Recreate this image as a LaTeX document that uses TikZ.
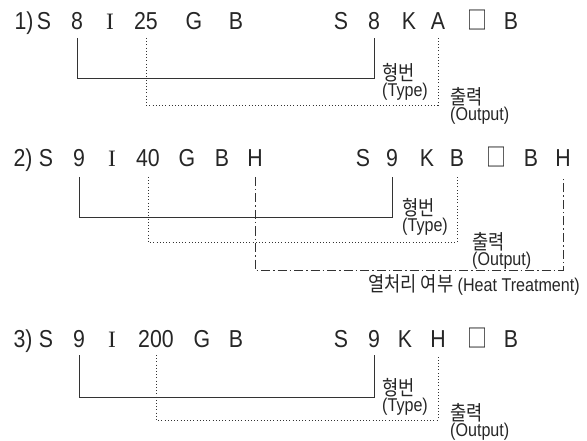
\documentclass[tikz,border=0pt]{standalone}
\usepackage{fontspec}
\setmainfont[FakeStretch=0.87]{Liberation Sans}
\newfontfamily\krf[FakeStretch=0.86]{Noto Sans CJK KR}
\newfontfamily\boxfont[FakeStretch=0.8]{Noto Sans CJK KR}
\newfontfamily\serifI{Liberation Serif}
\newcommand{\kr}{\krf\fontsize{20.5}{17}\selectfont}
\begin{document}
\begin{tikzpicture}[x=1pt,y=1pt,
  ch/.style={font=\fontsize{24.5}{24.5}\selectfont, inner sep=0pt, anchor=base, text=black!85},
  roman/.style={ch, font=\serifI\fontsize{23.5}{23.5}\selectfont},
  boxch/.style={ch, font=\boxfont\fontsize{25}{25}\selectfont},
  lbl/.style={font=\fontsize{18.5}{16.5}\selectfont, inner sep=0pt, align=left, anchor=north west, text=black!85},
  solidln/.style={line width=0.8pt, black!80},
  dotln/.style={line width=0.9pt, black!80, dash pattern=on 0.9pt off 2.3pt},
  dashdotln/.style={line width=0.8pt, black!80, dash pattern=on 9pt off 3pt on 1.5pt off 3pt}]
\useasboundingbox (0,0) rectangle (587,440);

% ---------- Row 1 ----------
\node[ch] (a1) at (24,410.5) {1)};
\node[ch] (a1s) at (44,410.5) {S};
\node[ch] (a1n) at (77,410.5) {8};
\node[roman] (a1i) at (110,410.5) {I};
\node[ch] (a1c) at (146,410.5) {25};
\node[ch] (a1g) at (194,410.5) {G};
\node[ch] (a1b) at (236,410.5) {B};
\node[ch] (b1s) at (341,410.5) {S};
\node[ch] (b1n) at (374,410.5) {8};
\node[ch] (b1k) at (409,410.5) {K};
\node[ch] (b1a) at (438,410.5) {A};
\node[boxch] (b1x) at (477,410.5) {□};
\node[ch] (b1b) at (511,410.5) {B};
\node[lbl] (t1) at (382,377) {{\kr 형번}\\(Type)};
\node[lbl] (o1) at (450,353) {{\kr 출력}\\(Output)};
\draw[solidln] ([yshift=-8.5pt]a1n.base) |- ([yshift=-48.5pt]b1n.base) -- ([yshift=-8.5pt]b1n.base);
\draw[dotln] ([yshift=-8.5pt]a1c.base) |- ([yshift=-75.5pt]b1a.base) -- ([yshift=-8.5pt]b1a.base);

% ---------- Row 2 ----------
\node[ch] (a2) at (23,273) {2)};
\node[ch] (a2s) at (46,273) {S};
\node[ch] (a2n) at (79,273) {9};
\node[roman] (a2i) at (112,273) {I};
\node[ch] (a2c) at (148,273) {40};
\node[ch] (a2g) at (187,273) {G};
\node[ch] (a2b) at (222,273) {B};
\node[ch] (a2h) at (255,273) {H};
\node[ch] (b2s) at (363,273) {S};
\node[ch] (b2n) at (392,273) {9};
\node[ch] (b2k) at (427,273) {K};
\node[ch] (b2a) at (457,273) {B};
\node[boxch] (b2x) at (496,273) {□};
\node[ch] (b2b) at (531,273) {B};
\node[ch] (b2h) at (563,273) {H};
\node[lbl] (t2) at (402,242) {{\kr 형번}\\(Type)};
\node[lbl] (o2) at (472,208) {{\kr 출력}\\(Output)};
\node[lbl, anchor=west] (h2) at (368,155) {{\kr 열처리 여부} (Heat Treatment)};
\draw[solidln] ([yshift=-10pt]a2n.base) |- ([yshift=-50pt]b2n.base) -- ([yshift=-10pt]b2n.base);
\draw[dotln] ([yshift=-10pt]a2c.base) |- ([yshift=-75pt]b2a.base) -- ([yshift=-10pt]b2a.base);
\draw[dashdotln] ([yshift=-10pt]a2h.base) |- ([yshift=-103pt]b2h.base) -- ([yshift=-10pt]b2h.base);

% ---------- Row 3 ----------
\node[ch] (a3) at (23,93) {3)};
\node[ch] (a3s) at (46,93) {S};
\node[ch] (a3n) at (79,93) {9};
\node[roman] (a3i) at (112,93) {I};
\node[ch] (a3c) at (156,93) {200};
\node[ch] (a3g) at (202,93) {G};
\node[ch] (a3b) at (236,93) {B};
\node[ch] (b3s) at (341,93) {S};
\node[ch] (b3n) at (374,93) {9};
\node[ch] (b3k) at (405,93) {K};
\node[ch] (b3a) at (438,93) {H};
\node[boxch] (b3x) at (477,93) {□};
\node[ch] (b3b) at (511,93) {B};
\node[lbl] (t3) at (382,62) {{\kr 형번}\\(Type)};
\node[lbl] (o3) at (450,37) {{\kr 출력}\\(Output)};
\draw[solidln] ([yshift=-8pt]a3n.base) |- ([yshift=-50pt]b3n.base) -- ([yshift=-8pt]b3n.base);
\draw[dotln] ([yshift=-8pt]a3c.base) |- ([yshift=-73pt]b3a.base) -- ([yshift=-8pt]b3a.base);
\end{tikzpicture}
\end{document}
